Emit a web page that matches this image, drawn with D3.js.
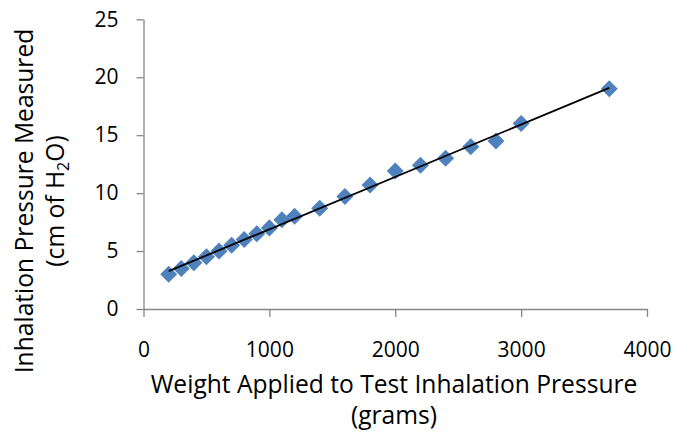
<!DOCTYPE html>
<html><head><meta charset="utf-8">
<script src="https://cdn.jsdelivr.net/npm/d3@7"></script>
<style>body{margin:0;background:#fff}</style>
</head><body>
<svg id="c" width="675" height="437"></svg>
<script>
const weights = [200,300,400,500,600,700,800,900,1000,1100,1200,1400,1600,1800,2000,2200,2400,2600,2800,3000,3700];
const pressures = [3,3.5,4,4.5,5,5.5,6,6.5,7,7.7,8,8.7,9.7,10.7,11.9,12.4,13,14,14.5,16,19];
const xTicks = [0,1000,2000,3000,4000];
const yTicks = [0,5,10,15,20,25];

const svg = d3.select("#c");
const font = "'Open Sans', sans-serif";
const x = d3.scaleLinear().domain([0,4000]).range([143.5,647]);
const y = d3.scaleLinear().domain([0,25]).range([309,19.3]);
const axisColor = "#868686";

const gx = svg.append("g").attr("transform",`translate(0,${y(0)})`)
  .call(d3.axisBottom(x).tickValues(xTicks).tickFormat(d3.format("d")).tickSize(8).tickSizeOuter(0).tickPadding(25));
const gy = svg.append("g").attr("transform",`translate(${x(0)},0)`)
  .call(d3.axisLeft(y).tickValues(yTicks).tickFormat(d3.format("d")).tickSize(7).tickSizeOuter(0).tickPadding(18));
[gx,gy].forEach(g=>{
  g.select(".domain").attr("stroke",axisColor).attr("stroke-width",1.3);
  g.selectAll(".tick line").attr("stroke",axisColor).attr("stroke-width",1.3);
  g.selectAll(".tick text").attr("font-family",font).attr("font-size",21).attr("fill","#000");
});

// linear trend line (least squares fit of data)
const n = weights.length;
const mx = d3.mean(weights), my = d3.mean(pressures);
let sxy=0,sxx=0;
for(let i=0;i<n;i++){sxy+=(weights[i]-mx)*(pressures[i]-my);sxx+=(weights[i]-mx)**2;}
const slope = sxy/sxx, icpt = my - slope*mx;
const x0 = d3.min(weights), x1 = d3.max(weights);

const sym = d3.symbol().type(d3.symbolDiamond2).size(185);
svg.append("g").selectAll("path").data(weights).join("path")
  .attr("d",sym)
  .attr("transform",(d,i)=>`translate(${x(d)},${y(pressures[i])})`)
  .attr("fill","#4F81BD");
svg.append("line")
  .attr("x1",x(x0)).attr("y1",y(icpt+slope*x0))
  .attr("x2",x(x1)).attr("y2",y(icpt+slope*x1))
  .attr("stroke","#000").attr("stroke-width",1.8);

// axis titles
const xt = svg.append("text").attr("font-family",font).attr("font-size",24.6).attr("text-anchor","middle");
xt.append("tspan").attr("x",394).attr("y",393).text("Weight Applied to Test Inhalation Pressure");
xt.append("tspan").attr("x",394).attr("y",424).text("(grams)");

const yt = svg.append("text").attr("font-family",font).attr("font-size",24.6).attr("text-anchor","middle")
  .attr("transform","rotate(-90)");
yt.append("tspan").attr("x",-201).attr("y",33).text("Inhalation Pressure Measured");
const l2 = yt.append("tspan").attr("x",-201).attr("y",64);
l2.text("(cm of H");
yt.append("tspan").attr("font-size",16).attr("dy",5).text("2");
yt.append("tspan").attr("dy",-5).text("O)");
</script>
</body></html>
